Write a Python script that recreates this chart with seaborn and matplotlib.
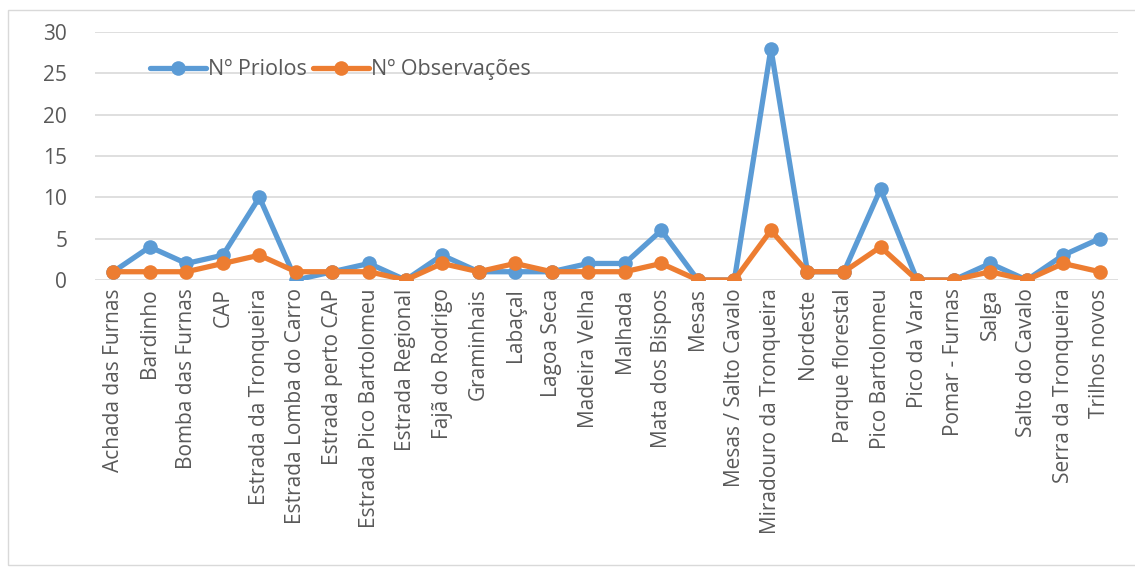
import pandas as pd
import matplotlib
matplotlib.use("Agg")
import matplotlib.pyplot as plt
import seaborn as sns
from matplotlib.patches import Rectangle

locais = ['Achada das Furnas', 'Bardinho', 'Bomba das Furnas', 'CAP', 'Estrada da Tronqueira',
          'Estrada Lomba do Carro', 'Estrada perto CAP', 'Estrada Pico Bartolomeu', 'Estrada Regional',
          'Fajã do Rodrigo', 'Graminhais', 'Labaçal', 'Lagoa Seca', 'Madeira Velha', 'Malhada',
          'Mata dos Bispos', 'Mesas', 'Mesas / Salto Cavalo', 'Miradouro da Tronqueira', 'Nordeste',
          'Parque florestal', 'Pico Bartolomeu', 'Pico da Vara', 'Pomar - Furnas', 'Salga',
          'Salto do Cavalo', 'Serra da Tronqueira', 'Trilhos novos']
priolos = [1, 4, 2, 3, 10, 0, 1, 2, 0, 3, 1, 1, 1, 2, 2, 6, 0, 0, 28, 1, 1, 11, 0, 0, 2, 0, 3, 5]
observacoes = [1, 1, 1, 2, 3, 1, 1, 1, 0, 2, 1, 2, 1, 1, 1, 2, 0, 0, 6, 1, 1, 4, 0, 0, 1, 0, 2, 1]

df = pd.DataFrame({'local': locais, 'priolos': priolos, 'obs': observacoes})

sns.set_theme(style="white")
plt.rcParams['font.family'] = ['Open Sans', 'DejaVu Sans']
cinza = '#595959'

fig = plt.figure(figsize=(11.35, 5.67), dpi=100)
fig.patches.append(Rectangle((8 / 1135, 0.003), 1.2, (567 - 10) / 567 - 0.003,
                             transform=fig.transFigure, fill=False, edgecolor='#D9D9D9', lw=1))
ax = fig.add_axes([95 / 1135, 287 / 567, 1023 / 1135, 248 / 567])

sns.lineplot(data=df, x='local', y='priolos', ax=ax, color='#5B9BD5', lw=3.8, marker='o',
             markersize=10.5, markeredgewidth=0, label='Nº Priolos', sort=False, zorder=3)
sns.lineplot(data=df, x='local', y='obs', ax=ax, color='#ED7D31', lw=3.8, marker='o',
             markersize=10.5, markeredgewidth=0, label='Nº Observações', sort=False, zorder=4)

ax.set_xlim(-0.5, len(locais) - 0.5)
ax.set_ylim(0, 30)
ax.set_yticks(range(0, 31, 5))
ax.yaxis.grid(True, color='#D9D9D9', lw=1.2)
ax.set_axisbelow(True)
for s in ax.spines.values():
    s.set_visible(False)
ax.set_xlabel('')
ax.set_ylabel('')
ax.tick_params(axis='x', rotation=90, labelsize=15, colors=cinza, length=0, pad=6)
ax.tick_params(axis='y', labelsize=15, colors=cinza, length=0, pad=20)

ax.legend(loc='center left', bbox_to_anchor=(0.045, 0.847), ncol=2, frameon=False,
          fontsize=15.5, handlelength=2.6, handletextpad=0.1, columnspacing=0.3,
          labelcolor=cinza, borderaxespad=0)

fig.savefig('out.png', dpi=100)
